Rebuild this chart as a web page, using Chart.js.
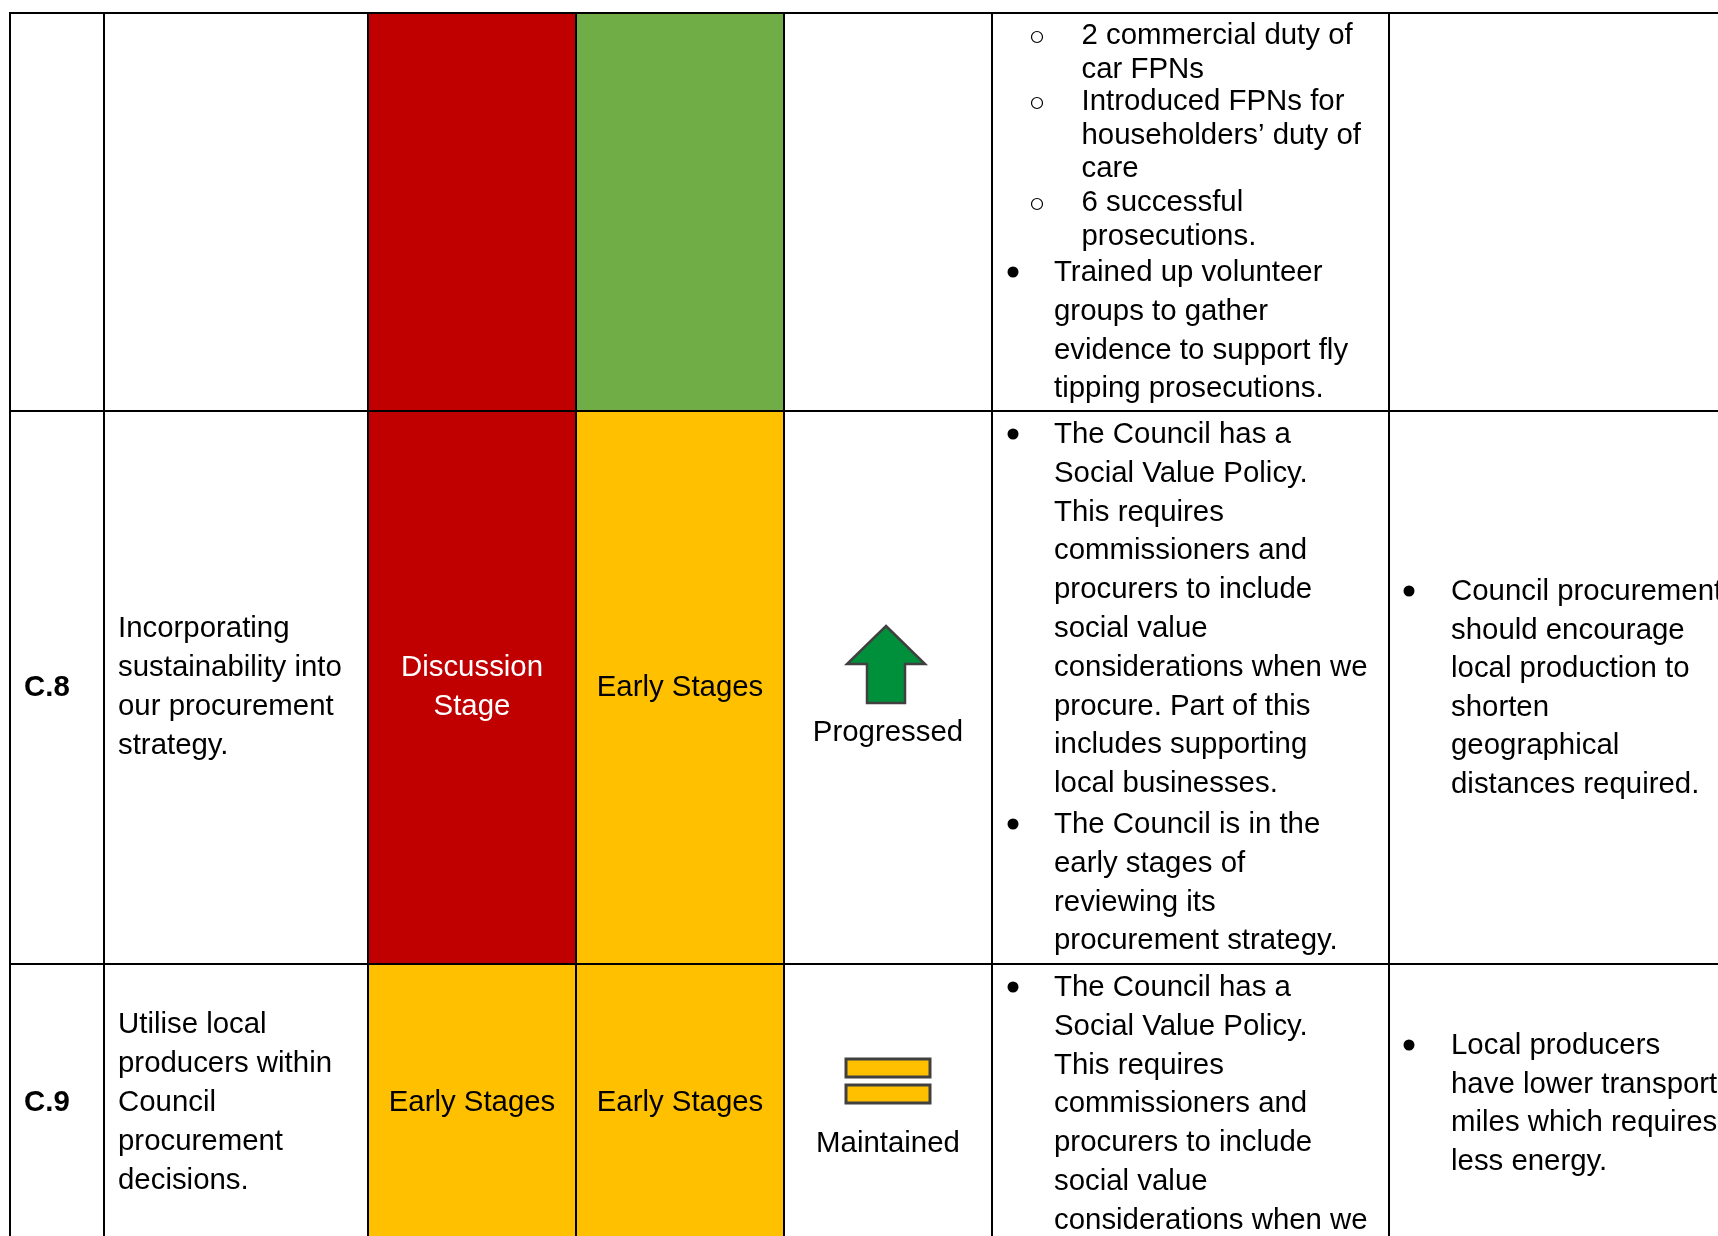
<!DOCTYPE html>
<html>
<head>
<meta charset="utf-8">
<title>Action plan table</title>
<script src="https://cdn.jsdelivr.net/npm/chart.js@4/dist/chart.umd.min.js"></script>
<style>
  html, body { margin: 0; padding: 0; background: #fff; }
  canvas { display: block; }
</style>
</head>
<body>
<canvas id="chart-table" width="1718" height="1236"></canvas>
<script>
// table content
const rowIds = ['', 'C.8', 'C.9'];
const actionLines = [
  [],
  ['Incorporating', 'sustainability into', 'our procurement', 'strategy.'],
  ['Utilise local', 'producers within', 'Council', 'procurement', 'decisions.']
];
const firstStatus = ['', 'Discussion Stage', 'Early Stages'];
const secondStatus = ['', 'Early Stages', 'Early Stages'];
const firstStatusColour = ['red', 'red', 'amber'];
const secondStatusColour = ['green', 'amber', 'amber'];
const trendLabels = ['', 'Progressed', 'Maintained'];
const subBulletsTop = [
  ['2 commercial duty of', 'car FPNs'],
  ['Introduced FPNs for', 'householders\u2019 duty of', 'care'],
  ['6 successful', 'prosecutions.']
];
const progressTop = ['Trained up volunteer', 'groups to gather', 'evidence to support fly', 'tipping prosecutions.'];
const progressC8a = ['The Council has a', 'Social Value Policy.', 'This requires', 'commissioners and', 'procurers to include', 'social value', 'considerations when we', 'procure. Part of this', 'includes supporting', 'local businesses.'];
const progressC8b = ['The Council is in the', 'early stages of', 'reviewing its', 'procurement strategy.'];
const progressC9 = ['The Council has a', 'Social Value Policy.', 'This requires', 'commissioners and', 'procurers to include', 'social value', 'considerations when we'];
const benefitC8 = ['Council procurement', 'should encourage', 'local production to', 'shorten', 'geographical', 'distances required.'];
const benefitC9 = ['Local producers', 'have lower transport', 'miles which requires', 'less energy.'];

// layout
const colEdges = [10, 104, 368, 576, 784, 992, 1389];
const rowEdges = [13, 411, 964, 1236];
const colours = { red: '#C00000', green: '#70AD47', amber: '#FFC000' };
const FONT = '"Liberation Sans", Arial, sans-serif';
const SIZE = 29.4;

function cellBars(statuses, col) {
  return statuses.map((s, i) => ({
    x: (colEdges[col] + colEdges[col + 1]) / 2,
    y: [rowEdges[i], rowEdges[i + 1]]
  }));
}

function trendIcon(kind) {
  const c = document.createElement('canvas');
  c.width = 90; c.height = 84;
  const g = c.getContext('2d');
  g.strokeStyle = '#404040';
  g.lineJoin = 'miter';
  if (kind === 'up') {
    g.lineWidth = 2.5;
    g.fillStyle = '#008F3B';
    g.beginPath();
    g.moveTo(45, 3); g.lineTo(84, 41); g.lineTo(64, 41); g.lineTo(64, 80);
    g.lineTo(26, 80); g.lineTo(26, 41); g.lineTo(6, 41);
    g.closePath(); g.fill(); g.stroke();
  } else {
    g.lineWidth = 3;
    g.fillStyle = '#FFC000';
    g.fillRect(3, 20, 84, 18); g.strokeRect(3, 20, 84, 18);
    g.fillRect(3, 46, 84, 18); g.strokeRect(3, 46, 84, 18);
  }
  return c;
}

const upIcon = trendIcon('up');
const equalIcon = trendIcon('equal');

// text runs: lines, x, first baseline, line step, align, colour, weight
const textRuns = [
  [[rowIds[1]], 24, 696, 0, 'left', '#000', 'bold'],
  [[rowIds[2]], 24, 1111, 0, 'left', '#000', 'bold'],
  [actionLines[1], 118, 637, 38.9, 'left'],
  [actionLines[2], 118, 1033, 38.9, 'left'],
  [firstStatus[1].split(' '), 472, 676, 39, 'center', '#fff'],
  [[firstStatus[2]], 472, 1111, 0, 'center'],
  [[secondStatus[1]], 680, 696, 0, 'center'],
  [[secondStatus[2]], 680, 1111, 0, 'center'],
  [[trendLabels[1]], 888, 741, 0, 'center'],
  [[trendLabels[2]], 888, 1152, 0, 'center'],
  [subBulletsTop[0], 1081.5, 44, 33.6, 'left'],
  [subBulletsTop[1], 1081.5, 110, 33.6, 'left'],
  [subBulletsTop[2], 1081.5, 211, 33.6, 'left'],
  [progressTop, 1054, 281, 38.8, 'left'],
  [progressC8a, 1054, 443, 38.8, 'left'],
  [progressC8b, 1054, 833, 38.8, 'left'],
  [progressC9, 1054, 996, 38.8, 'left'],
  [benefitC8, 1451, 600, 38.6, 'left'],
  [benefitC9, 1451, 1054, 38.6, 'left']
];

const tablePlugin = {
  id: 'tableText',
  afterDraw(chart) {
    const ctx = chart.ctx, xs = chart.scales.x, ys = chart.scales.y;
    ctx.save();
    ctx.textBaseline = 'alphabetic';
    textRuns.forEach(([lines, x, y, step, align, colour, weight]) => {
      ctx.font = (weight ? weight + ' ' : '') + SIZE + 'px ' + FONT;
      ctx.fillStyle = colour || '#000';
      ctx.textAlign = align;
      lines.forEach((t, i) => ctx.fillText(t, xs.getPixelForValue(x), ys.getPixelForValue(y + i * step)));
    });
    ctx.restore();
  }
};

new Chart(document.getElementById('chart-table').getContext('2d'), {
  type: 'bar',
  data: {
    datasets: [
      {
        label: 'First status',
        data: cellBars(firstStatus, 2),
        backgroundColor: firstStatusColour.map(c => colours[c]),
        barThickness: colEdges[3] - colEdges[2],
        grouped: false
      },
      {
        label: 'Second status',
        data: cellBars(secondStatus, 3),
        backgroundColor: secondStatusColour.map(c => colours[c]),
        barThickness: colEdges[4] - colEdges[3],
        grouped: false
      },
      {
        type: 'scatter',
        label: 'Trend',
        data: [{ x: 886, y: 665 }, { x: 888, y: 1081 }],
        pointStyle: [upIcon, equalIcon],
        pointRadius: 5
      },
      {
        type: 'scatter',
        label: 'Bullets',
        data: [{ x: 1013, y: 272 }, { x: 1013, y: 434 }, { x: 1013, y: 824 }, { x: 1013, y: 987 }, { x: 1409, y: 591 }, { x: 1409, y: 1045 }],
        pointStyle: 'circle',
        pointRadius: 5.5,
        pointBorderWidth: 0,
        pointBackgroundColor: '#000'
      },
      {
        type: 'scatter',
        label: 'Sub bullets',
        data: [{ x: 1037, y: 37 }, { x: 1037, y: 103 }, { x: 1037, y: 204 }],
        pointStyle: 'circle',
        pointRadius: 5.5,
        pointBorderWidth: 1.2,
        pointBorderColor: '#000',
        pointBackgroundColor: '#fff'
      }
    ]
  },
  options: {
    responsive: false,
    animation: false,
    events: [],
    layout: { autoPadding: false, padding: { left: 9, top: 12, right: 0, bottom: 0 } },
    plugins: { legend: { display: false }, tooltip: { enabled: false } },
    scales: {
      x: {
        type: 'linear', min: 9, max: 1718, offset: false,
        afterBuildTicks: s => { s.ticks = colEdges.map(value => ({ value })); },
        afterFit: s => { s.height = 0; },
        ticks: { display: false },
        border: { display: false },
        grid: { color: '#000', lineWidth: 2, drawTicks: false, offset: false, z: 1 }
      },
      y: {
        type: 'linear', min: 12, max: 1236, reverse: true,
        afterBuildTicks: s => { s.ticks = rowEdges.slice(0, 3).map(value => ({ value })); },
        afterFit: s => { s.width = 0; },
        ticks: { display: false },
        border: { display: false },
        grid: { color: '#000', lineWidth: 2, drawTicks: false, z: 1 }
      }
    }
  },
  plugins: [tablePlugin]
});
</script>
</body>
</html>
